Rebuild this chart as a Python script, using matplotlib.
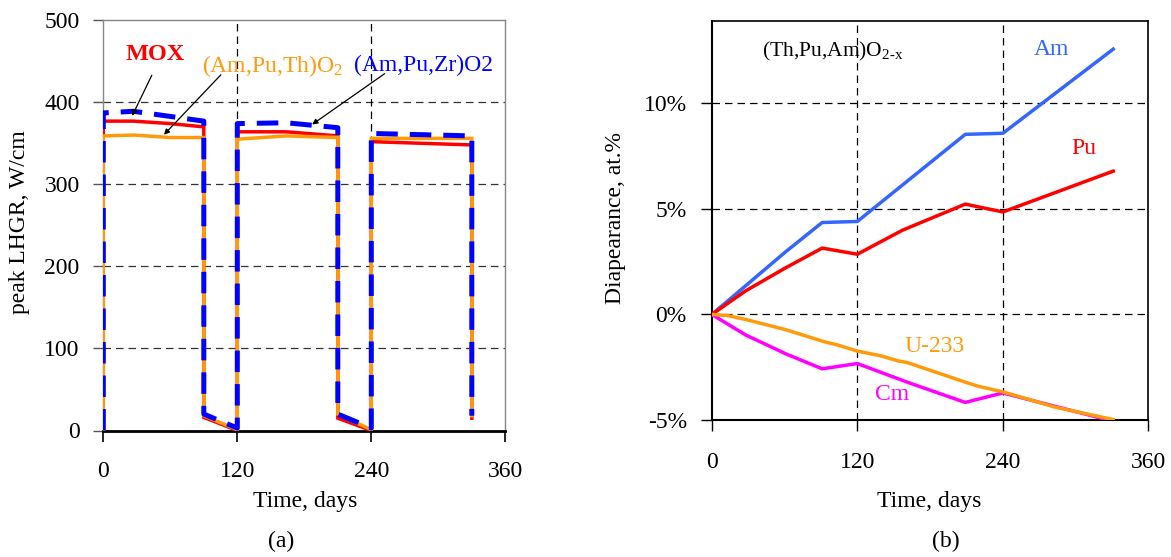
import matplotlib
matplotlib.use("Agg")
import matplotlib.pyplot as plt

plt.rcParams['font.family'] = ['Liberation Serif', 'DejaVu Serif']
plt.rcParams['mathtext.fontset'] = 'custom'
plt.rcParams['mathtext.rm'] = 'Liberation Serif'

W, H = 1171, 557

# ---- Panel (a) data: peak LHGR, W/cm vs time, days
mox_days = [0, 0, 27, 60, 90, 90, 120, 120, 164, 210, 210, 240, 240, 330, 330]
mox_vals = [0, 377, 377, 374, 370, 16, 0, 364, 364, 359, 15, 0, 352, 348, 15]
tho_days = [0, 0, 28, 60, 90, 90, 120, 120, 164, 210, 210, 240, 240, 330, 330]
tho_vals = [0, 359, 360, 357, 357, 18, 1, 355, 359, 357, 20, 1, 356, 356, 18]
zr_days = [0, 0, 27, 90, 90, 120, 120, 164, 210, 210, 240, 240, 330, 330]
zr_vals = [0, 387, 389, 377, 20, 3, 374, 375, 369, 20, 3, 362, 359, 18]

# ---- Panel (b) data: disappearance, at.% vs time, days
am_days = [0, 61, 91, 120, 209, 240, 331]
am_vals = [0, 2.97, 4.35, 4.4, 8.52, 8.57, 12.55]
pu_days = [0, 28, 61, 91, 120, 157, 209, 240, 331]
pu_vals = [0, 1.12, 2.21, 3.14, 2.85, 3.98, 5.22, 4.85, 6.78]
u_days = [0, 13, 29, 61, 94, 103, 120, 139, 154, 161, 209, 220, 240, 283, 331]
u_vals = [0, -0.05, -0.25, -0.72, -1.31, -1.43, -1.73, -1.95, -2.2, -2.27, -3.2, -3.4, -3.66, -4.38, -4.97]
cm_days = [0, 28, 61, 91, 120, 163, 209, 240, 331]
cm_vals = [0, -0.97, -1.86, -2.57, -2.32, -3.24, -4.16, -3.71, -5.05]

x_ticks = [0, 120, 240, 360]
ya_ticks = [0, 100, 200, 300, 400, 500]
yb_ticks = [-5, 0, 5, 10]
yb_labels = ['-5%', '0%', '5%', '10%']

FS = 17
ORANGE = '#FF9A0A'

fig = plt.figure(figsize=(W / 100, H / 100), dpi=100)

def fx(x):
    return x / W

def fy(y):
    return 1 - y / H

GRID_LS = (0, (6, 4))

# ---------------- Panel (a)
A_L, A_R, A_T, A_B = 103.3, 505.3, 20.2, 430.5
axa = fig.add_axes([fx(A_L), fy(A_B), fx(A_R) - fx(A_L), fy(A_T) - fy(A_B)])
axa.set_xlim(0, 360)
axa.set_ylim(0, 500)
axa.set_xticks(x_ticks)
axa.set_yticks(ya_ticks)
for v in [100, 200, 300, 400]:
    axa.axhline(v, color='#333333', lw=0.9, ls=GRID_LS, zorder=1)
for v in [120, 240]:
    axa.axvline(v, color='black', lw=0.9, ls=GRID_LS, zorder=1)
axa.plot(mox_days, mox_vals, color='#FF0000', lw=2.5, zorder=3, solid_joinstyle='miter')
axa.plot(tho_days, tho_vals, color=ORANGE, lw=2.5, zorder=4, solid_joinstyle='miter')
axa.plot(zr_days, zr_vals, color='#0000FF', lw=3.6, ls=(0, (4.3, 2.4)), zorder=5)
for s in ['top', 'right', 'left']:
    axa.spines[s].set_color('#888888')
    axa.spines[s].set_linewidth(1.0)
axa.spines['bottom'].set_color('black')
axa.spines['bottom'].set_linewidth(2.0)
axa.tick_params(axis='x', direction='out', length=8, width=1.2, pad=14, labelsize=FS)
axa.tick_params(axis='y', direction='out', length=7, width=1.0, pad=10, labelsize=FS, color='#555555')

axa.text(46.3, 457.6, 'MOX', color='#FF0000', fontsize=17.5, fontweight='bold',
         ha='center', va='center')
axa.text(151, 444.2, r'(Am,Pu,Th)O$\mathregular{_2}$', color=ORANGE,
         fontsize=FS, ha='center', va='center')
axa.text(286.3, 445.4, '(Am,Pu,Zr)O2', color='#0000FF',
         fontsize=FS, ha='center', va='center')
arrow = dict(arrowstyle='-|>', color='black', lw=0.9, mutation_scale=8)
axa.annotate('', xy=(24.8, 380.4), xytext=(44.5, 435.9), arrowprops=arrow, zorder=6)
axa.annotate('', xy=(52.6, 358), xytext=(107, 435.9), arrowprops=arrow, zorder=6)
axa.annotate('', xy=(185, 371), xytext=(254, 436.8), arrowprops=arrow, zorder=6)

fig.text(fx(20), fy(222), 'peak LHGR, W/cm', rotation=90, fontsize=FS, ha='center', va='center')
fig.text(fx(305), fy(501), 'Time, days', fontsize=FS, ha='center', va='center')
fig.text(fx(281), fy(541), '(a)', fontsize=FS, ha='center', va='center')

# ---------------- Panel (b)
B_L, B_R, B_T, B_B = 711.8, 1148.4, 20.6, 420.2
axb = fig.add_axes([fx(B_L), fy(B_B), fx(B_R) - fx(B_L), fy(B_T) - fy(B_B)])
axb.set_xlim(0, 360)
axb.set_ylim(-5, 13.9)
axb.set_xticks(x_ticks)
axb.set_yticks(yb_ticks)
axb.set_yticklabels(yb_labels)
for v in [0, 5, 10]:
    axb.axhline(v, color='black', lw=0.9, ls=GRID_LS, zorder=1)
for v in [120, 240]:
    axb.axvline(v, color='black', lw=0.9, ls=GRID_LS, zorder=1)
axb.plot(am_days, am_vals, color='#3366FF', lw=2.5, zorder=3)
axb.plot(pu_days, pu_vals, color='#FF0000', lw=2.5, zorder=3)
axb.plot(cm_days, cm_vals, color='#FF00FF', lw=2.5, zorder=3)
axb.plot(u_days, u_vals, color=ORANGE, lw=2.5, zorder=4)
for s in axb.spines.values():
    s.set_color('black')
    s.set_linewidth(1.2)
axb.spines['left'].set_linewidth(1.5)
axb.spines['bottom'].set_linewidth(1.5)
axb.tick_params(axis='x', direction='out', length=8, width=1.0, pad=15, labelsize=FS)
axb.tick_params(axis='y', direction='out', length=8, width=1.0, pad=10, labelsize=FS)

def bx(px):
    return (px - 711.8) / (1148.4 - 711.8) * 360

def by(py):
    return (315.1 - py) / 21.18

axb.text(bx(833), by(51.5), r'(Th,Pu,Am)O$\mathregular{_{2\text{-}x}}$', color='black', fontsize=15.5,
         ha='center', va='center')
axb.text(bx(1051.5), by(49.7), 'Am', color='#3366FF', fontsize=FS, ha='center', va='center')
axb.text(bx(1084.3), by(148.5), 'Pu', color='#FF0000', fontsize=FS, ha='center', va='center')
axb.text(bx(935), by(347.4), 'U-233', color=ORANGE, fontsize=FS, ha='center', va='center')
axb.text(bx(892.4), by(395.4), 'Cm', color='#FF00FF', fontsize=FS, ha='center', va='center')

fig.text(fx(615.3), fy(218.5), 'Diapearance, at.%', rotation=90, fontsize=FS, ha='center', va='center')
fig.text(fx(929.6), fy(501), 'Time, days', fontsize=FS, ha='center', va='center')
fig.text(fx(946), fy(541), '(b)', fontsize=FS, ha='center', va='center')

fig.savefig('out.png', dpi=100)
